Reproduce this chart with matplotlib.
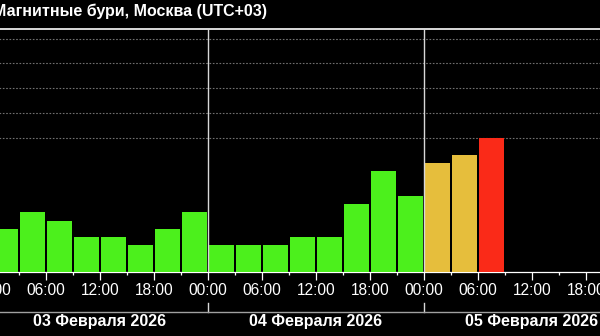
import numpy as np
import matplotlib
matplotlib.use("Agg")
import matplotlib.pyplot as plt
from matplotlib.lines import Line2D
from matplotlib.transforms import blended_transform_factory

plt.rcParams['font.family'] = ['Liberation Sans', 'DejaVu Sans']

# Kp-индекс по трёхчасовым интервалам (3, 4 и 5 февраля)
kp_feb3 = [1.33, 2.0, 1.67, 1.0, 1.0, 0.67, 1.33, 2.0]
kp_feb4 = [0.67, 0.67, 0.67, 1.0, 1.0, 2.33, 3.67, 2.67]
kp_feb5 = [4.0, 4.33, 5.0]

day_labels = ["03 Февраля 2026", "04 Февраля 2026", "05 Февраля 2026"]
hour_labels = ["00:00", "06:00", "12:00", "18:00"]
storm_levels = [5, 6, 7, 8, 9]
title = "Магнитные бури, Москва (UTC+03)"

kp = np.array(kp_feb3 + kp_feb4 + kp_feb5)
hours = np.arange(len(kp)) * 3 + 1.5

Y_MIN, Y_MAX = -0.4, 9.4
GREEN, YELLOW, RED = '#4cf01c', '#e6be3c', '#fa2a18'
colors = [RED if v >= 5 else YELLOW if v >= 4 else GREEN for v in kp]

fig = plt.figure(figsize=(6, 3.36), dpi=100, facecolor='black')
# оси шире картинки: края графика обрезаны, как в оригинале
ax = fig.add_axes([-8 / 600, 64 / 336, 648 / 600, 243.3 / 336])
ax.set_facecolor('black')

ax.bar(hours, kp - Y_MIN, bottom=Y_MIN, width=2.7, color=colors, zorder=3)

ax.set_xlim(0, 72)
ax.set_ylim(Y_MIN, Y_MAX)

# пунктирная сетка на уровнях бурь
ax.set_yticks(storm_levels)
ax.yaxis.grid(True, color='#707070', linestyle=(0, (1.5, 1.5)), linewidth=0.8)
ax.tick_params(axis='y', left=False, labelleft=False)

ax.set_xticks(np.arange(0, 73, 6))
ax.set_xticklabels([hour_labels[i % 4] for i in range(13)])
ax.set_xticks(np.arange(3, 72, 6), minor=True)
ax.tick_params(axis='x', which='major', colors='white', length=5.5, width=0.9,
               pad=2.5, labelsize=11.2)
ax.tick_params(axis='x', which='minor', colors='white', length=2.5, width=0.9)

for s in ['left', 'right']:
    ax.spines[s].set_visible(False)
ax.spines['top'].set_color('white')
ax.spines['top'].set_linewidth(1.2)
ax.spines['bottom'].set_color('white')
ax.spines['bottom'].set_linewidth(0.9)

# разделители суток
trans = blended_transform_factory(ax.transData, fig.transFigure)
for d in [24, 48]:
    ax.axvline(d, color='#d8d8d8', linewidth=1.0, zorder=4)
    ax.plot([d, d], [33 / 336, 24 / 336], color='#d8d8d8', linewidth=1.0,
            transform=trans, clip_on=False)

fig.add_artist(Line2D([0, 1], [24 / 336, 24 / 336], color='#a0a0a0', linewidth=1.0))

for i, lab in enumerate(day_labels):
    ax.text(12 + 24 * i, 14.3 / 336, lab, transform=trans, color='white',
            fontsize=11.5, fontweight='bold', ha='center', va='center')

fig.text(-7 / 600, 325 / 336, title, color='white', fontsize=11.5,
         fontweight='bold', ha='left', va='center')

fig.savefig('out.png', dpi=100, facecolor='black')
